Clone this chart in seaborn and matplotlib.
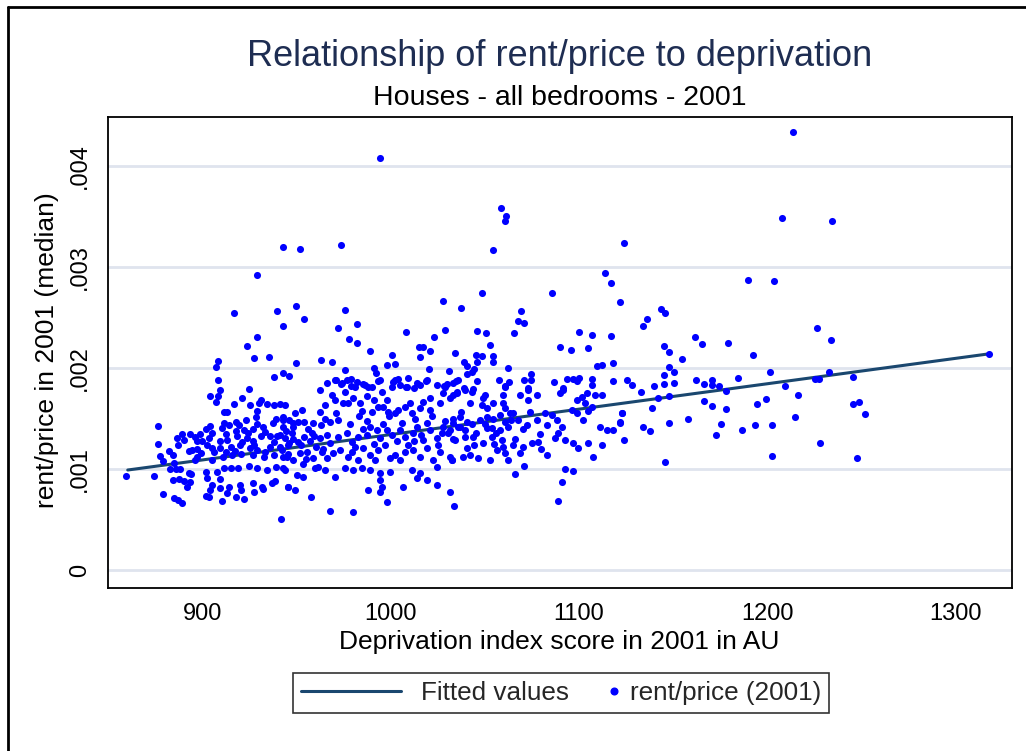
import matplotlib
matplotlib.use("Agg")
import matplotlib.pyplot as plt
from matplotlib.lines import Line2D
from matplotlib.legend_handler import HandlerLine2D
import numpy as np
import pandas as pd
import seaborn as sns

# Deprivation index (x) and rent/price ratio in thousandths (y), grouped by area of the plot
dep_extreme = [1214, 994, 1058.5, 1061, 1060.6, 1208, 1234.6, 942.5, 951.6, 973.4,
               1054, 1124, 929, 1114, 1117, 1190, 1203.7, 941.5, 967.5, 979.8,
               998, 1033.5, 1089]
rp_extreme = [4.34, 4.08, 3.58, 3.50, 3.46, 3.49, 3.46, 3.20, 3.18, 3.22,
              3.17, 3.24, 2.92, 2.94, 2.84, 2.87, 2.86, 0.505, 0.58, 0.575,
              0.67, 0.63, 0.68]

dep_high = [1121.8, 1143.6, 1146, 1136, 1134, 1226.6, 1234, 1161.7, 1165.4, 1179,
            1145, 1148, 1155, 1192.6, 1318, 1148, 1150.5, 1145, 1201.6, 1233,
            1128, 1133, 1140, 1145, 1150.5, 1162, 1166.5, 1170.7, 1171, 1174.5,
            1178, 1184.6, 1148, 1142, 1139, 1166.5, 1170.7, 1178, 1209.6, 1216.5,
            1225.5, 1227.5, 1246, 1194.7, 1199.5, 1245.7, 1249, 1252, 1123, 1122,
            1134, 1137.8, 1148, 1158, 1175.5, 1173, 1186.7, 1193.6, 1202.7, 1215,
            1124, 1228, 1202.7, 1248, 1146]
rp_high = [2.65, 2.58, 2.54, 2.49, 2.42, 2.40, 2.28, 2.31, 2.24, 2.25,
           2.22, 2.16, 2.09, 2.13, 2.14, 2.01, 1.96, 1.93, 1.96, 1.96,
           1.83, 1.76, 1.82, 1.84, 1.85, 1.88, 1.84, 1.88, 1.83, 1.82,
           1.77, 1.90, 1.72, 1.70, 1.60, 1.67, 1.62, 1.59, 1.82, 1.73,
           1.89, 1.89, 1.91, 1.64, 1.69, 1.64, 1.66, 1.54, 1.55, 1.47,
           1.42, 1.38, 1.46, 1.50, 1.45, 1.34, 1.39, 1.44, 1.44, 1.51,
           1.29, 1.26, 1.13, 1.11, 1.07]

dep_mid_upper = [1048.4, 1085.6, 1037, 1069, 1067.5, 1070.7, 1046, 1050.5, 1065.4, 1100,
                 1107, 1117, 1052.7, 1090, 1095.7, 1104.8, 1034, 1045, 1048.4, 1054,
                 1054, 1046, 1039, 1040.4, 1044, 1043, 1040.4, 1031, 1062, 1074.5,
                 1074.5, 1071, 1063, 1057.4, 1060.6, 1046, 1034.6, 1086.7, 1093.6, 1096.8,
                 1100, 1099, 1107, 1107, 1109.6, 1112, 1118, 1118, 1091.5, 1073,
                 1039, 1043.6]
rp_mid_upper = [2.74, 2.74, 2.59, 2.56, 2.47, 2.45, 2.37, 2.35, 2.35, 2.36,
                2.33, 2.32, 2.23, 2.21, 2.18, 2.20, 2.15, 2.13, 2.12, 2.12,
                2.06, 2.06, 2.06, 2.02, 1.99, 1.96, 1.94, 1.97, 2.00, 1.94,
                1.88, 1.88, 1.86, 1.88, 1.82, 1.87, 1.87, 1.86, 1.89, 1.89,
                1.90, 1.87, 1.89, 1.83, 2.02, 2.03, 2.05, 1.87, 1.80, 1.80,
                1.80, 1.79]

dep_centre_upper = [949.5, 954, 942.5, 975.5, 982, 971.8, 977.7, 982, 988.8, 1027.7,
                    1029, 1008, 1023, 1015, 1017, 1020.7, 1015.4, 1000.5, 998, 1002,
                    949.5, 962.8, 968.6, 942.5, 945.7, 975.5, 991, 992, 1020, 970.7,
                    973.4, 978.7, 978.7, 985, 987.8, 993, 1002, 1004, 1009, 1000.5,
                    1008, 1012, 1015.4, 1018.6, 1028, 1030, 981]
rp_centre_upper = [2.61, 2.49, 2.42, 2.57, 2.44, 2.40, 2.29, 2.25, 2.17, 2.66,
                   2.38, 2.36, 2.31, 2.21, 2.21, 2.17, 2.11, 2.13, 2.03, 2.04,
                   2.05, 2.08, 2.06, 1.95, 1.92, 1.98, 2.00, 1.95, 1.99, 1.88,
                   1.84, 1.89, 1.82, 1.84, 1.81, 1.87, 1.88, 1.89, 1.90, 1.81,
                   1.81, 1.80, 1.83, 1.87, 1.82, 1.84, 1.81]

dep_left_upper = [916.5, 939.4, 929, 923.4, 927, 935, 908, 907, 908, 909,
                  924.5, 937.8]
rp_left_upper = [2.54, 2.56, 2.31, 2.22, 2.10, 2.11, 2.07, 2.01, 1.88, 1.78,
                 1.79, 1.91]

dep_left_core = [904, 908, 907, 921, 916.5, 925, 930, 931, 934, 937.8,
                 941, 929, 928, 911, 913, 917.5, 923, 911, 903.7, 876,
                 889, 893, 898.4, 901.6, 912, 917.5, 922, 926.6, 932, 939,
                 942.5, 876, 886.7, 896.8, 899.5, 903, 909, 913, 918, 923.4,
                 926.6, 931, 935.6, 939.4, 877, 884, 892.6, 894, 897, 902,
                 904.8, 909, 915, 919.7, 925, 928.7, 935.6, 941, 945, 879,
                 884.6, 895.7, 897, 904.8, 910.6, 915.4, 920, 926.6, 932.4, 937.8,
                 942.5, 859, 874, 882.4, 885.6, 887.8, 892.6, 901.6, 907.4, 911,
                 915, 918.6, 924.5, 928.7, 934, 938.8, 943.6, 884, 887, 890,
                 893.6, 893, 891.5, 902, 904.8, 909, 903.7, 909, 913.8, 919.7,
                 920, 926.6, 931.4, 936.7, 938.3, 945, 878.7, 884.6, 886.7, 888.8,
                 901.6, 903, 910, 913, 917.5, 922, 927, 932]
rp_left_core = [1.72, 1.72, 1.66, 1.70, 1.64, 1.63, 1.65, 1.68, 1.64, 1.63,
                1.64, 1.57, 1.51, 1.56, 1.56, 1.47, 1.49, 1.46, 1.43, 1.43,
                1.35, 1.35, 1.35, 1.40, 1.35, 1.38, 1.39, 1.40, 1.42, 1.50,
                1.49, 1.25, 1.24, 1.28, 1.28, 1.31, 1.28, 1.29, 1.33, 1.31,
                1.28, 1.33, 1.33, 1.33, 1.13, 1.14, 1.18, 1.19, 1.20, 1.24,
                1.21, 1.21, 1.22, 1.24, 1.21, 1.19, 1.22, 1.22, 1.24, 1.08,
                1.06, 1.09, 1.12, 1.09, 1.12, 1.14, 1.15, 1.14, 1.12, 1.14,
                1.12, 0.93, 0.93, 1.00, 1.00, 1.00, 0.96, 0.97, 0.97, 1.01,
                1.01, 1.01, 1.03, 1.01, 0.99, 1.02, 0.99, 0.89, 0.90, 0.88,
                0.95, 0.87, 0.82, 0.91, 0.84, 0.90, 0.79, 0.81, 0.82, 0.84,
                0.79, 0.86, 0.82, 0.86, 0.88, 0.82, 0.75, 0.71, 0.69, 0.66,
                0.73, 0.72, 0.68, 0.76, 0.72, 0.70, 0.77, 0.80]

dep_centre_core = [970.2, 974, 976.6, 982, 986, 989.9, 994, 1001, 1005, 1008.5,
                   1014, 1019, 1024.5, 1028.7, 1033, 1035.6, 968.6, 975.5, 970.2, 974.5,
                   977, 983.5, 984.6, 993, 995.7, 998.4, 1002, 1007.5, 1010, 1011,
                   1015.4, 1017, 1020.7, 1026, 1027.7, 1033, 1035.2, 943.6, 949, 952.7,
                   942.5, 946, 950.5, 954, 958.5, 962, 965, 967.5, 971, 971.8,
                   942.5, 947.8, 941, 943.6, 947.3, 950.5, 954, 958, 962, 966,
                   967.5, 971.8, 976.6, 979.3, 982.4, 987.2, 988.8, 992.5, 994, 997.9,
                   1000.5, 1004.8, 1007.5, 1011.7, 1013.8, 1017, 1020.7, 1024.5, 1027.7, 1030.3,
                   1033, 1035.6, 942, 944.7, 947.8, 951.6, 955.3, 958.5, 963.3, 966,
                   969, 972.9, 977, 979.3, 982.4, 985, 988.8, 991.5, 993, 999.5,
                   1002, 1004.8, 1007.5, 1011.7, 1015.4, 1019, 1022.3, 1026, 1032.4, 1031.4,
                   942.5, 950, 953, 959.6, 965, 970.2, 975.5, 979.8, 984.6, 988.8,
                   994, 999.5, 1011, 1015.4, 1024.5, 945, 949, 957.4, 987.8, 994,
                   995.2, 994, 1006.4, 1014, 1019, 1024.5, 1031.4]
rp_centre_core = [1.88, 1.85, 1.88, 1.86, 1.83, 1.81, 1.88, 1.86, 1.83, 1.81,
                  1.85, 1.88, 1.83, 1.81, 1.85, 1.88, 1.73, 1.76, 1.68, 1.65,
                  1.65, 1.65, 1.57, 1.61, 1.61, 1.56, 1.55, 1.61, 1.65, 1.55,
                  1.60, 1.66, 1.70, 1.65, 1.75, 1.73, 1.76, 1.63, 1.55, 1.58,
                  1.51, 1.49, 1.47, 1.47, 1.46, 1.56, 1.50, 1.47, 1.55, 1.49,
                  1.42, 1.42, 1.34, 1.31, 1.36, 1.27, 1.32, 1.36, 1.31, 1.34,
                  1.26, 1.32, 1.36, 1.27, 1.32, 1.34, 1.42, 1.39, 1.31, 1.39,
                  1.34, 1.39, 1.32, 1.36, 1.42, 1.29, 1.39, 1.31, 1.42, 1.36,
                  1.46, 1.42, 1.19, 1.12, 1.09, 1.16, 1.17, 1.11, 1.17, 1.11,
                  1.16, 1.19, 1.12, 1.17, 1.09, 1.21, 1.14, 1.09, 1.19, 1.11,
                  1.14, 1.09, 1.17, 1.19, 1.12, 1.21, 1.09, 1.17, 1.09, 1.12,
                  1.01, 0.94, 0.92, 1.01, 0.99, 0.92, 1.01, 0.99, 1.01, 0.99,
                  0.96, 0.97, 0.99, 0.96, 1.02, 0.82, 0.79, 0.72, 0.79, 0.89,
                  0.82, 0.77, 0.82, 0.91, 0.89, 0.84, 0.77]

dep_right_core = [1125.5, 1035, 1039.4, 1043, 1050, 1049, 1059.6, 1060.6, 1068.6, 1073,
                  1073, 1077.7, 1090, 1091.5, 1099, 1101.6, 1104.3, 1103, 1107, 1108.5,
                  1112, 1031.4, 1042, 1048.4, 1051, 1054, 1059.6, 1060.6, 1065, 1033,
                  1036.7, 1040.4, 1036.7, 1043, 1047.3, 1051, 1054, 1058, 1060.6, 1063.3,
                  1067.5, 1072.3, 1077.7, 1082, 1085.6, 1088.3, 1090.9, 1096.3, 1099, 1102,
                  1104.8, 1111, 1115, 1118, 1122.9, 1121.8, 1031.4, 1039.4, 1051, 1053.7,
                  1058, 1034, 1039.4, 1043.6, 1049, 1053.7, 1059, 1059.6, 1065, 1068.6,
                  1075, 1078, 1083, 1088.8, 1092.5, 1096.8, 1099.5, 1104.8, 1107.4, 1112.2,
                  1040.4, 1042, 1038.3, 1046.3, 1052.6, 1056.4, 1060.6, 1062.2, 1032.4, 1066,
                  1070.7, 1092.5, 1096.8, 1091]
rp_right_core = [1.88, 1.75, 1.78, 1.76, 1.73, 1.70, 1.73, 1.81, 1.73, 1.78,
                 1.68, 1.73, 1.75, 1.78, 1.68, 1.71, 1.75, 1.65, 1.61, 1.73,
                 1.73, 1.70, 1.65, 1.63, 1.60, 1.65, 1.65, 1.60, 1.55, 1.50,
                 1.51, 1.47, 1.42, 1.45, 1.49, 1.51, 1.50, 1.53, 1.47, 1.55,
                 1.49, 1.44, 1.49, 1.55, 1.53, 1.49, 1.42, 1.58, 1.55, 1.49,
                 1.57, 1.42, 1.39, 1.39, 1.55, 1.46, 1.39, 1.39, 1.41, 1.41,
                 1.39, 1.29, 1.32, 1.32, 1.26, 1.32, 1.29, 1.22, 1.24, 1.16,
                 1.26, 1.27, 1.14, 1.36, 1.29, 1.26, 1.21, 1.26, 1.12, 1.24,
                 1.21, 1.14, 1.12, 1.11, 1.09, 1.19, 1.16, 1.09, 1.09, 0.95,
                 1.03, 1.00, 0.98, 0.87]

# Additional observations inside the densest part of the cloud
dep_dense = [944, 948, 952, 956, 960, 963, 945, 953, 957, 961,
             964, 948, 955, 959, 946, 978, 983, 987, 991, 996,
             999, 1003, 1006, 1009, 1013, 1016, 1019, 1022, 1025, 1029,
             1033, 1037, 981, 985, 990, 997, 1004, 1012, 1021, 1027,
             905, 910, 914, 919, 924, 929, 933, 937, 906, 912,
             917, 921, 927, 933, 938, 899, 896, 890, 886, 882,
             1045, 1050, 1056, 1062, 1066, 1070, 1074, 1079, 1083, 1087,
             1044, 1055, 1064, 1070, 1080, 962, 966, 965, 987, 991,
             995, 998, 980]
rp_dense = [1.38, 1.30, 1.24, 1.40, 1.22, 1.44, 1.15, 1.05, 1.28, 1.02,
            1.20, 1.46, 1.10, 1.33, 1.26, 1.45, 1.52, 1.48, 1.25, 1.45,
            1.52, 1.28, 1.46, 1.24, 1.50, 1.34, 1.46, 1.52, 1.24, 1.48,
            1.30, 1.56, 1.22, 1.40, 1.56, 1.24, 1.58, 1.28, 1.58, 1.36,
            1.36, 1.41, 1.44, 1.44, 1.36, 1.45, 1.37, 1.46, 1.17, 1.17,
            1.18, 1.27, 1.24, 1.17, 1.27, 1.16, 1.32, 1.29, 1.31, 1.18,
            1.36, 1.45, 1.36, 1.42, 1.30, 1.40, 1.56, 1.35, 1.44, 1.31,
            1.24, 1.25, 1.49, 1.22, 1.20, 1.78, 1.85, 1.63, 1.72, 1.68,
            1.76, 1.68, 1.70]

# Linear fit endpoints ("Fitted values")
fit_dep = [860, 1318]
fit_rp = [0.99, 2.14]

y_ticks = [0, 0.001, 0.002, 0.003, 0.004]
y_tick_labels = ["0", ".001", ".002", ".003", ".004"]
x_ticks = [900, 1000, 1100, 1200, 1300]

groups = [
    (dep_extreme, rp_extreme), (dep_high, rp_high), (dep_mid_upper, rp_mid_upper),
    (dep_centre_upper, rp_centre_upper), (dep_left_upper, rp_left_upper),
    (dep_left_core, rp_left_core), (dep_centre_core, rp_centre_core),
    (dep_right_core, rp_right_core), (dep_dense, rp_dense),
]
frames = []
for xs, ys in groups:
    assert len(xs) == len(ys)
    frames.append(pd.DataFrame({"deprivation": xs, "rent_price": np.array(ys) / 1000.0}))
df = pd.concat(frames, ignore_index=True)
fit_df = pd.DataFrame({"deprivation": fit_dep, "rent_price": np.array(fit_rp) / 1000.0})

sns.set_style("white")
plt.rcParams["font.family"] = ["Liberation Sans", "DejaVu Sans"]

NAVY = "#1a476f"
BLUE = "#0000ff"

fig = plt.figure(figsize=(10.26, 7.51), dpi=100)
fig.patch.set_facecolor("white")
ax = fig.add_axes([108 / 1026, 1 - 588 / 751, (1012 - 108) / 1026, (588 - 117) / 751])

sns.lineplot(data=fit_df, x="deprivation", y="rent_price", ax=ax, color=NAVY,
             linewidth=2.2, zorder=3)
sns.scatterplot(data=df, x="deprivation", y="rent_price", ax=ax, color=BLUE,
                s=26, linewidth=0, zorder=4)

ax.set_xlim(849.5, 1330.3)
ax.set_ylim(-0.000178, 0.004485)
ax.set_xticks(x_ticks)
ax.set_xticklabels([str(t) for t in x_ticks])
ax.set_yticks(y_ticks)
ax.set_yticklabels(y_tick_labels, rotation=90, va="center")
ax.set_xlabel("")
ax.set_ylabel("")

ax.yaxis.grid(True, color="#dfe4ee", linewidth=2)
ax.xaxis.grid(False)
ax.set_axisbelow(True)
for sp in ax.spines.values():
    sp.set_color("black")
    sp.set_linewidth(1.3)
ax.tick_params(axis="both", direction="out", length=8, width=1, color="#555555",
               labelsize=17, labelcolor="black")
ax.tick_params(axis="x", pad=3)
ax.tick_params(axis="y", pad=4)

fig.text(560 / 1026, 1 - 56 / 751, "Relationship of rent/price to deprivation",
         ha="center", va="center", fontsize=26, color="#1e2d52")
fig.text(560 / 1026, 1 - 98 / 751, "Houses - all bedrooms - 2001",
         ha="center", va="center", fontsize=20.5, color="black")
fig.text(559 / 1026, 1 - 642 / 751, "Deprivation index score in 2001 in AU",
         ha="center", va="center", fontsize=19, color="black")
fig.text(47 / 1026, 1 - 350 / 751, "rent/price in 2001 (median)",
         ha="center", va="center", rotation=90, fontsize=19, color="black")


class DotAtEnd(HandlerLine2D):
    """Legend handler that draws its single marker at the right end of the handle box."""

    def get_xdata(self, legend, xdescent, ydescent, width, height, fontsize):
        pos = -xdescent + width + 0.15 * fontsize
        return np.array([pos - 0.5, pos + 0.5]), np.array([pos])


line_handle = Line2D([], [], color=NAVY, linewidth=2.2)
dot_handle = Line2D([], [], color=BLUE, marker="o", linestyle="", markersize=4.8)
leg = fig.legend([line_handle, dot_handle], ["Fitted values", "rent/price (2001)"],
                 loc="center", bbox_to_anchor=(561 / 1026, 1 - 693 / 751), ncol=2,
                 frameon=True, fancybox=False, edgecolor="black", fontsize=18.8,
                 handlelength=3.85, handletextpad=0.75, columnspacing=-2.25,
                 borderpad=0.3, handler_map={dot_handle: DotAtEnd(numpoints=1)})
leg.get_frame().set_linewidth(1.2)

# Outer graph border
fig.add_artist(Line2D([8 / 1026, 8 / 1026], [0, 1 - 7 / 751], transform=fig.transFigure,
                      color="black", linewidth=2))
fig.add_artist(Line2D([8 / 1026, 1], [1 - 7 / 751, 1 - 7 / 751], transform=fig.transFigure,
                      color="black", linewidth=2))

fig.savefig("out.png", dpi=100)
